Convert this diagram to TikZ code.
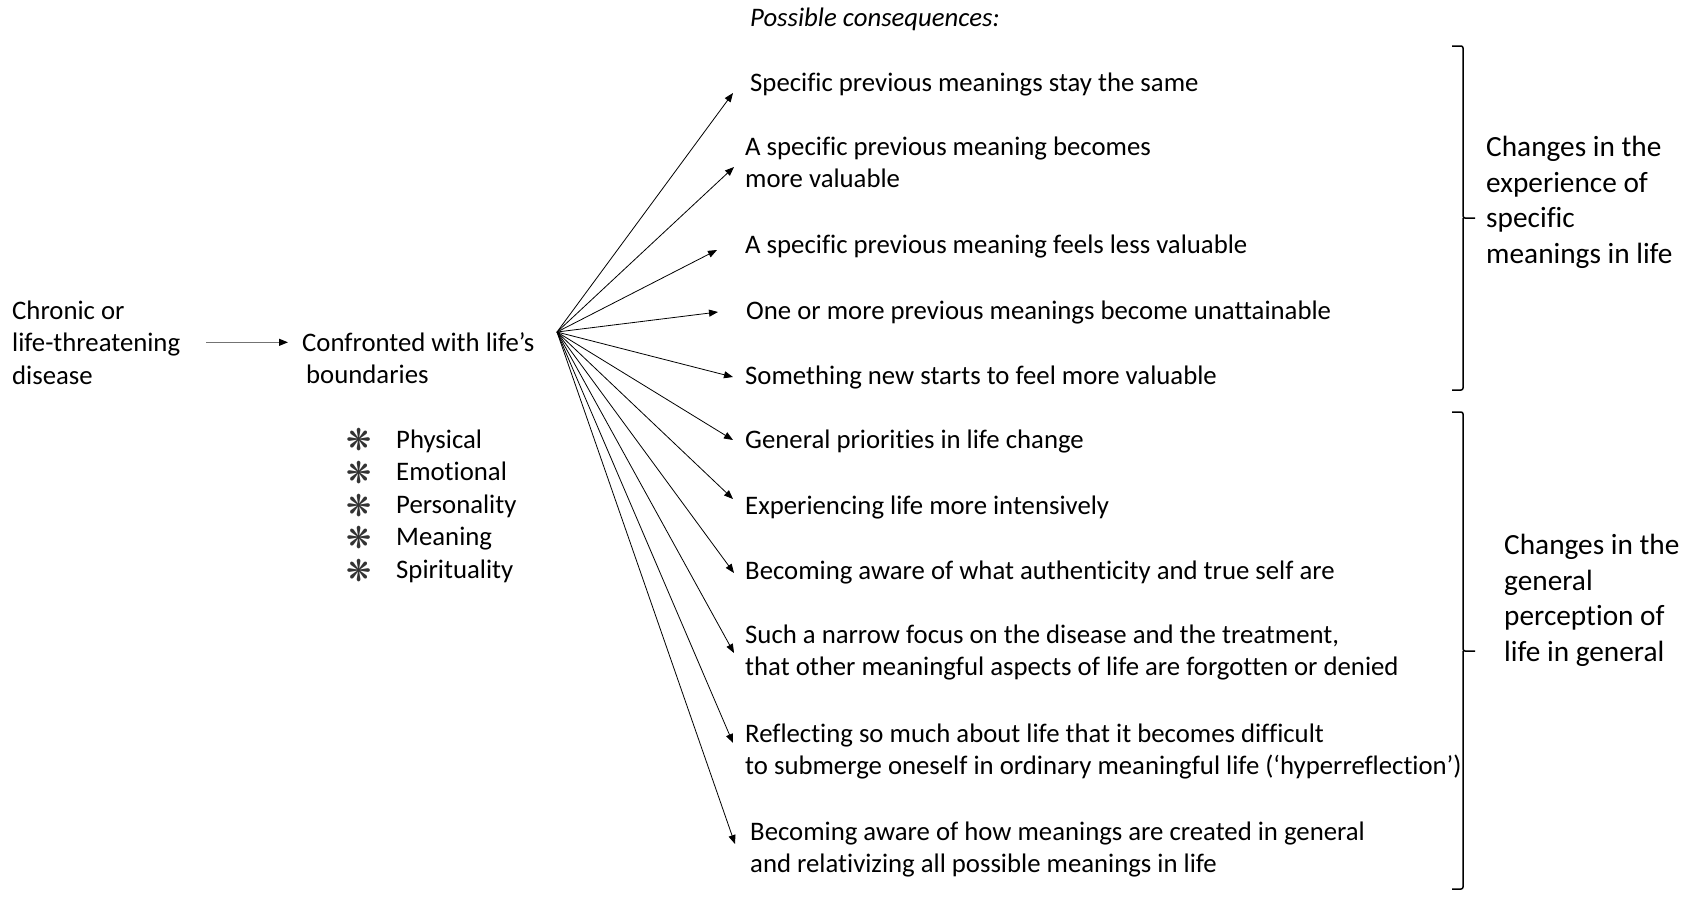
\documentclass[tikz,border=0pt]{standalone}
\usepackage{fontspec}
\setmainfont{Carlito}[Ligatures=CommonOff]
\newfontfamily\symfont{DejaVu Sans}
\usetikzlibrary{arrows.meta}

\tikzset{
  txt/.style={anchor=base west, align=left, inner sep=0pt, font=\fontsize{26.75}{32.5}\selectfont},
  side/.style={anchor=base west, align=left, inner sep=0pt, font=\fontsize{29.3}{35.5}\selectfont},
  star/.style={anchor=center, inner sep=0pt, font=\symfont\fontsize{30}{30}\selectfont, text=black!80},
  cons/.style={-{Triangle[length=9pt,width=7pt]}, line width=0.8pt},
  lead/.style={-{Triangle[length=9pt,width=7pt,black]}, line width=1.2pt, draw=black!55},
  grp/.style={line width=1.5pt, rounded corners=2pt}
}

\begin{document}
\begin{tikzpicture}[x=1pt,y=-1pt]
  \useasboundingbox (0,0) rectangle (1688,898);

  % left part
  \node[txt] (disease) at (12,384) {Chronic or\\life-threatening\\disease};
  \node[txt] (bound) at (302,383.5) {Confronted with life’s\\\hspace*{4pt}boundaries};
  \draw[lead, shorten <=26pt, shorten >=14pt] (disease.east) -- (disease.east -| bound.west);

  \foreach \txt [count=\i] in {Physical,Emotional,Personality,Meaning,Spirituality}{
    \node[star] (st\i) at (359,440+32.6*\i-32.6) {❋};
    \node[txt] (dim\i) at (396,448+32.6*\i-32.6) {\txt};
  }

  % consequences
  \node[txt, font=\fontsize{26.75}{32.5}\selectfont\itshape] (head) at (750,26) {Possible consequences:};
  \node[txt] (s1) at (750,91) {Specific previous meanings stay the same};
  \node[txt] (s2) at (745,187.5) {A specific previous meaning becomes\\more valuable};
  \node[txt] (s3) at (745,253) {A specific previous meaning feels less valuable};
  \node[txt] (s4) at (746,319) {One or more previous meanings become unattainable};
  \node[txt] (s5) at (745,384) {Something new starts to feel more valuable};
  \node[txt] (g1) at (745,448) {General priorities in life change};
  \node[txt] (g2) at (745,514) {Experiencing life more intensively};
  \node[txt] (g3) at (745,579) {Becoming aware of what authenticity and true self are};
  \node[txt] (g4) at (745,675.5) {Such a narrow focus on the disease and the treatment,\\that other meaningful aspects of life are forgotten or denied};
  \node[txt] (g5) at (745,774.5) {Reflecting so much about life that it becomes difficult\\to submerge oneself in ordinary meaningful life (‘hyperreflection’)};
  \node[txt] (g6) at (750,872.5) {Becoming aware of how meanings are created in general\\and relativizing all possible meanings in life};

  % fan of arrows
  \coordinate (hub) at (557,332);
  \foreach \x/\y [count=\i] in {733/93,734/167,717/250,718/312,733/377,733/440,733/499,734/573,734/653,733/743,735/844}{
    \coordinate (tip\i) at (\x,\y);
    \draw[cons] (hub) -- (tip\i);
  }

  % groups
  \draw[grp] (1452,46) -| (1463,218) -- (1475,218);
  \draw[grp] (1463,218) |- (1452,390);
  \draw[grp] (1452,412) -| (1463,651) -- (1475,651);
  \draw[grp] (1463,651) |- (1452,889);
  \node[side] (spec) at (1486,263) {Changes in the\\experience of\\specific\\meanings in life};
  \node[side] (gen) at (1504,661) {Changes in the\\general\\perception of\\life in general};
\end{tikzpicture}
\end{document}
